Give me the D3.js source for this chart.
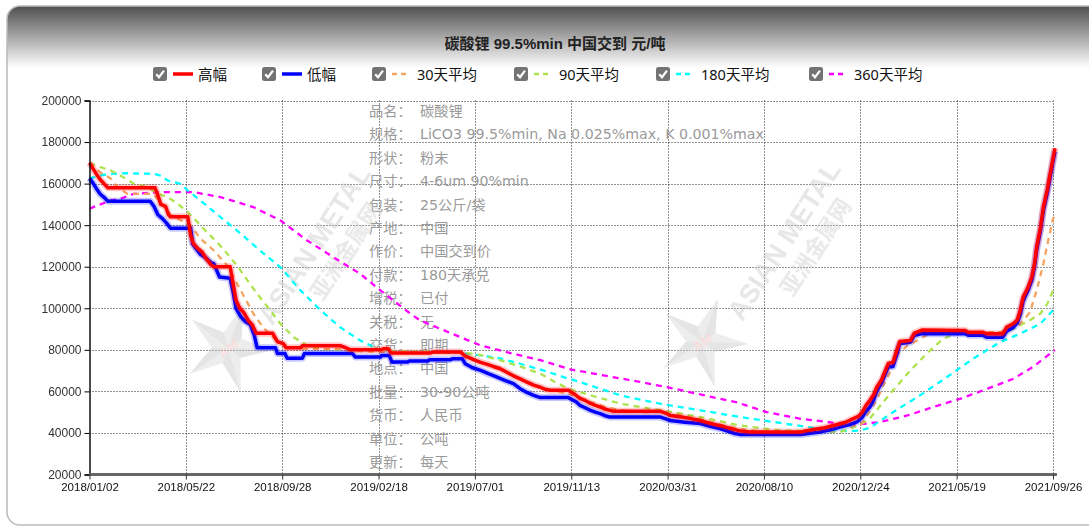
<!DOCTYPE html>
<html><head><meta charset="utf-8">
<script src="https://cdn.jsdelivr.net/npm/d3@7"></script>
<style>body{margin:0;background:#fff}svg{display:block}</style>
</head><body>
<svg id="c" width="1089" height="530"></svg>
<script>
// ---------------- data ----------------
const title = "碳酸锂 99.5%min 中国交到 元/吨";
const xTickLabels = ["2018/01/02","2018/05/22","2018/09/28","2019/02/18","2019/07/01","2019/11/13","2020/03/31","2020/08/10","2020/12/24","2021/05/19","2021/09/26"];
const yTicks = [20000,40000,60000,80000,100000,120000,140000,160000,180000,200000];
const seriesNames = ["高幅","低幅","30天平均","90天平均","180天平均","360天平均"];
const seriesColors = ["#ff0000","#0000ff","#f4a460","#aee34f","#00ffff","#ff00ff"];
// [point index (0..1000 across the axis), price]
const high = [[0,170000],[4,167000],[8,164000],[11,162000],[15,160000],[19,158000],[68,158000],[72,153000],[74,150000],[79,149000],[82,145000],[84,144000],[102,144000],[105,135000],[108,131000],[112,129000],[117,127000],[121,124000],[126,121000],[129,120000],[146,120000],[149,112000],[152,104000],[156,100000],[160,98000],[165,94000],[169,92000],[173,88000],[190,88000],[195,84000],[201,83000],[204,81000],[219,81000],[221,82000],[260,82000],[266,81000],[271,80000],[302,80000],[305,80500],[310,80500],[313,78500],[354,78500],[357,79000],[385,79000],[390,77000],[395,76000],[400,75000],[406,74000],[413,73000],[419,72000],[426,71000],[434,69000],[440,67500],[447,66000],[454,64500],[461,63000],[468,62000],[473,61000],[478,60500],[497,60500],[504,58500],[509,56600],[515,55500],[520,54200],[525,53300],[530,52500],[535,51500],[543,50500],[592,50500],[598,49500],[603,48400],[613,47800],[623,47000],[634,46000],[644,44600],[655,43500],[665,42200],[675,41000],[686,40400],[738,40400],[743,41000],[753,41800],[763,42500],[774,43800],[784,45000],[791,46500],[798,48000],[802,50000],[806,53300],[810,55700],[814,58500],[817,62000],[822,65500],[826,70000],[829,73400],[834,74000],[838,80000],[841,84000],[852,84500],[856,88000],[864,89500],[909,89300],[912,88500],[927,88500],[931,87800],[948,87800],[952,91000],[959,92700],[963,94500],[966,99000],[969,105400],[974,110000],[978,115000],[981,122000],[983,129400],[987,139000],[990,148700],[994,157000],[997,164700],[1000,172000],[1002,177000]];
const low = [[0,162500],[4,160000],[8,157000],[11,155000],[16,153000],[19,151500],[63,151500],[67,149000],[71,145000],[76,143000],[80,141000],[84,138500],[105,138500],[107,131000],[110,129000],[115,126000],[120,124500],[126,122000],[129,121500],[135,115000],[146,114400],[149,108000],[152,100000],[157,96000],[162,93500],[167,92000],[171,87000],[174,81000],[193,81000],[195,78200],[203,78200],[205,76000],[221,76000],[223,78200],[273,78200],[276,76500],[302,76500],[303,77300],[311,77300],[314,74100],[330,74100],[332,74600],[351,74600],[353,75200],[374,75200],[377,75700],[387,75700],[390,73300],[397,71500],[406,70100],[414,68500],[423,66900],[431,65300],[440,63700],[447,61300],[454,59500],[461,58100],[468,57000],[497,57000],[501,56000],[505,55000],[509,53300],[515,52000],[520,50900],[525,50000],[530,49300],[535,48300],[540,47700],[592,47700],[598,46800],[603,46000],[618,45200],[634,44500],[644,43200],[655,42000],[663,40800],[670,39700],[675,39300],[738,39300],[748,39800],[758,40400],[769,41500],[779,42800],[789,44000],[797,45500],[802,47500],[806,50500],[810,52500],[814,56000],[817,60000],[822,64000],[826,68500],[829,71700],[834,72000],[838,78000],[841,83000],[852,83700],[856,86900],[864,87800],[909,87800],[912,87000],[927,87000],[931,86100],[948,86100],[952,89000],[959,90900],[963,93000],[966,97000],[969,103500],[974,108500],[978,113500],[981,120500],[983,128000],[987,137500],[990,147000],[994,155500],[997,163000],[1000,170500],[1002,175500]];
const ma30 = [[0,170000],[11,165500],[22,162500],[29,158300],[39,155200],[66,155000],[74,151000],[84,145000],[94,142500],[105,139900],[115,133600],[129,127800],[143,120600],[157,108600],[170,97500],[180,90900],[195,84000],[209,81300],[219,80500],[260,80500],[271,79500],[302,79000],[343,78500],[385,78500],[406,74000],[426,70500],[447,66000],[468,62000],[489,59700],[504,58000],[520,54900],[535,52500],[551,51000],[572,50000],[592,50000],[613,48500],[634,46500],[655,44000],[675,42000],[696,40800],[738,40500],[758,41500],[779,43000],[800,43600],[807,48400],[817,55700],[823,62000],[831,69300],[839,78200],[849,82000],[859,84500],[869,87000],[883,88500],[945,88500],[963,90900],[976,98000],[983,108600],[990,121400],[995,132600],[1000,143100],[1002,144500]];
const ma90 = [[0,170000],[11,168000],[22,166300],[32,163900],[46,160000],[60,158300],[71,155100],[81,153500],[91,150500],[102,146300],[112,141500],[122,136600],[133,131500],[143,126200],[154,120000],[164,113400],[174,107000],[185,100600],[198,92600],[212,86100],[226,82100],[240,80500],[260,80000],[302,79300],[385,79000],[406,77500],[426,75000],[447,72000],[468,68500],[483,64500],[499,61000],[509,59700],[520,58100],[551,54100],[592,51000],[634,47700],[675,43600],[717,41200],[758,40800],[779,40400],[789,42000],[800,44000],[810,47000],[817,51000],[834,60500],[852,70100],[869,78200],[886,85400],[900,87800],[945,88500],[955,89300],[976,94200],[987,97500],[994,102000],[1000,108500],[1002,110500]];
const ma180 = [[0,162500],[11,163900],[22,164700],[39,165000],[66,164700],[74,163900],[81,161500],[94,160000],[102,156700],[115,151900],[136,143900],[157,135900],[177,127800],[198,119800],[219,108600],[240,99000],[260,90900],[281,84500],[295,81300],[302,79500],[322,78700],[385,78500],[406,77300],[426,75900],[447,73300],[471,70100],[492,66900],[509,64500],[551,58100],[592,54100],[634,50900],[675,47700],[717,44800],[758,42000],[789,40800],[800,41200],[810,42500],[834,50000],[862,58100],[890,66900],[917,75700],[945,83700],[966,87800],[987,92600],[1002,100000]];
const ma360 = [[0,147900],[4,148700],[22,151900],[32,152700],[46,155100],[74,155900],[108,155900],[136,153500],[170,148700],[198,142300],[226,132600],[253,124600],[281,116600],[302,108600],[333,97400],[343,94200],[385,86100],[406,82100],[440,78100],[468,75000],[500,70500],[530,68000],[572,64500],[610,61000],[644,57500],[672,54700],[703,50000],[738,46800],[771,45000],[800,44200],[821,45300],[849,48400],[876,52500],[904,56500],[932,61300],[959,66100],[979,71700],[1002,80000]];
const infoLabels = ["品名：","规格：","形状：","尺寸：","包装：","产地：","作价：","付款：","增税：","关税：","交货：","地点：","批量：","货币：","单位：","更新："];
const infoValues = ["碳酸锂","LiCO3 99.5%min, Na 0.025%max, K 0.001%max","粉末","4-6um 90%min","25公斤/袋","中国","中国交到价","180天承兑","已付","无","即期","中国","30-90公吨","人民币","公吨","每天"];
const watermarkText = ["ASIAN METAL","亚洲金属网"];

// ---------------- drawing ----------------
const svg = d3.select("#c");
const FONT = "'Liberation Sans', Arial, 'Noto Sans CJK SC', sans-serif";
const CJK = "'Noto Sans', 'Noto Sans CJK SC', sans-serif";
const INFO = "'DejaVu Sans', 'Noto Sans CJK SC', sans-serif";
const defs = svg.append("defs");
const hg = defs.append("linearGradient").attr("id","hdr").attr("x1",0).attr("y1",0).attr("x2",0).attr("y2",1);
hg.append("stop").attr("offset","0%").attr("stop-color","#505050");
hg.append("stop").attr("offset","100%").attr("stop-color","#fff");
defs.append("clipPath").attr("id","box").append("rect")
  .attr("x",7).attr("y",6).attr("width",1110).attr("height",519).attr("rx",13);

svg.append("rect").attr("x",7).attr("y",6).attr("width",1110).attr("height",519).attr("rx",13)
  .attr("fill","#fff");
svg.append("rect").attr("clip-path","url(#box)").attr("x",7).attr("y",6).attr("width",1110).attr("height",62)
  .attr("fill","url(#hdr)");
svg.append("rect").attr("x",7).attr("y",6).attr("width",1110).attr("height",519).attr("rx",13)
  .attr("fill","none").attr("stroke","#bbb").attr("stroke-width",1.5);

svg.append("text").attr("x",555).attr("y",49).attr("text-anchor","middle")
  .attr("font-family",FONT).attr("font-size",15).attr("font-weight","bold").attr("fill","#222").text(title);

// legend
const legX = [153,262,372,514,656,809];
const lg = svg.append("g");
seriesNames.forEach((name,i)=>{
  const g = lg.append("g").attr("transform",`translate(${legX[i]},67)`);
  g.append("rect").attr("width",14).attr("height",14).attr("rx",2.5).attr("fill","#737373");
  g.append("path").attr("d","M3.2,7.2 L6,10.2 L11,3.6").attr("fill","none").attr("stroke","#fff").attr("stroke-width",2.2);
  const solid = i<2;
  g.append("line").attr("x1",20).attr("x2",solid?40:38).attr("y1",7).attr("y2",7)
    .attr("stroke",seriesColors[i]).attr("stroke-width",solid?3.5:2.5)
    .attr("stroke-dasharray",solid?null:"5,4");
  g.append("text").attr("x",45).attr("y",12.5).attr("font-family",CJK).attr("font-size",14.5)
    .attr("fill","#111").text(name);
});

// scales
const x = d3.scaleLinear().domain([0,1000]).range([89.5,1053]);
const y = d3.scaleLinear().domain([20000,200000]).range([474.5,100.5]);
const tickIdx = xTickLabels.map((d,i)=>i*100);

// grid
const grid = svg.append("g").attr("stroke","#222").attr("stroke-width",1).attr("stroke-dasharray","1,2");
yTicks.slice(1).forEach(v=>{
  grid.append("line").attr("x1",x(0)).attr("x2",x(1000)).attr("y1",Math.round(y(v))+0.5).attr("y2",Math.round(y(v))+0.5);
});
tickIdx.slice(1).forEach(t=>{
  grid.append("line").attr("x1",Math.round(x(t))+0.5).attr("x2",Math.round(x(t))+0.5).attr("y1",y(200000)).attr("y2",y(20000));
});

// info text
const info = svg.append("g").attr("font-family",INFO).attr("font-size",14.2).attr("fill","#9a9a9a");
infoLabels.forEach((l,i)=>{
  const yy = 116 + i*23.4;
  info.append("text").attr("x",369).attr("y",yy).text(l);
  info.append("text").attr("x",420).attr("y",yy).text(infoValues[i]);
});

// watermarks
function watermark(tx,ty,sx,sy){
  const g = svg.append("g").attr("opacity",0.45);
  const pts=[];
  for(let k=0;k<10;k++){
    const r = k%2===0?46:16, a = -Math.PI/2 + k*Math.PI/5 + 0.35;
    pts.push([sx+r*Math.cos(a), sy+r*Math.sin(a)]);
  }
  g.append("polygon").attr("points",pts.map(p=>p.join(",")).join(" ")).attr("fill","#d6d6d6");
  for(let k=0;k<10;k+=2){
    g.append("polygon").attr("points",[[sx,sy],pts[k],pts[(k+1)%10]].map(p=>p.join(",")).join(" ")).attr("fill","#c4c4c4");
  }
  g.append("text").attr("x",sx).attr("y",sy+5).attr("text-anchor","middle").attr("font-family",FONT)
    .attr("font-size",13).attr("font-weight","bold").attr("fill","#f2b4b4")
    .attr("transform",`rotate(-35,${sx},${sy})`).text("AM");
  const t = g.append("g").attr("transform",`translate(${tx},${ty}) rotate(-57)`);
  t.append("text").attr("text-anchor","middle").attr("font-family",FONT).attr("font-size",27)
    .attr("font-weight","bold").attr("fill","#c8c8c8").text(watermarkText[0]);
  t.append("text").attr("x",12).attr("y",28).attr("text-anchor","middle").attr("font-family","'Noto Sans CJK SC',sans-serif")
    .attr("font-size",22).attr("font-weight","bold").attr("fill","#cccccc").text(watermarkText[1]);
}
watermark(322,250,228,348);
watermark(792,246,702,342);

// series
const line = d3.line().x(d=>x(d[0])).y(d=>y(d[1]));
const sg = svg.append("g").attr("fill","none").attr("stroke-linejoin","round");
[[ma360,5],[ma180,4],[ma90,3],[ma30,2]].forEach(([data,ci])=>{
  sg.append("path").attr("d",line(data)).attr("stroke",seriesColors[ci]).attr("stroke-width",2.3)
    .attr("stroke-dasharray","6,5");
});
[[low,1],[high,0]].forEach(([data,ci])=>{
  sg.append("path").attr("d",line(data)).attr("stroke",seriesColors[ci]).attr("stroke-width",7).attr("stroke-opacity",0.22);
  sg.append("path").attr("d",line(data)).attr("stroke",seriesColors[ci]).attr("stroke-width",3.5);
});

// axes
const ya = svg.append("g").attr("transform",`translate(${x(0)},0)`)
  .call(d3.axisLeft(y).tickValues(yTicks).tickFormat(d3.format("d")).tickSize(5).tickPadding(3));
ya.select(".domain").attr("stroke","#111").attr("stroke-width",1.5);
ya.selectAll("text").attr("font-family",FONT).attr("font-size",12).attr("fill","#333");
const xa = svg.append("g").attr("transform",`translate(0,${y(20000)})`)
  .call(d3.axisBottom(x).tickValues(tickIdx).tickFormat((d,i)=>xTickLabels[i]).tickSize(5).tickSizeOuter(0).tickPadding(3));
xa.select(".domain").attr("stroke","#666").attr("stroke-width",3).attr("d",`M${x(0)},0H${x(1002)+2}`);
xa.selectAll("text").attr("font-family",FONT).attr("font-size",11.5).attr("fill","#111");
xa.selectAll(".tick line").attr("stroke","#333");
</script>
</body></html>
